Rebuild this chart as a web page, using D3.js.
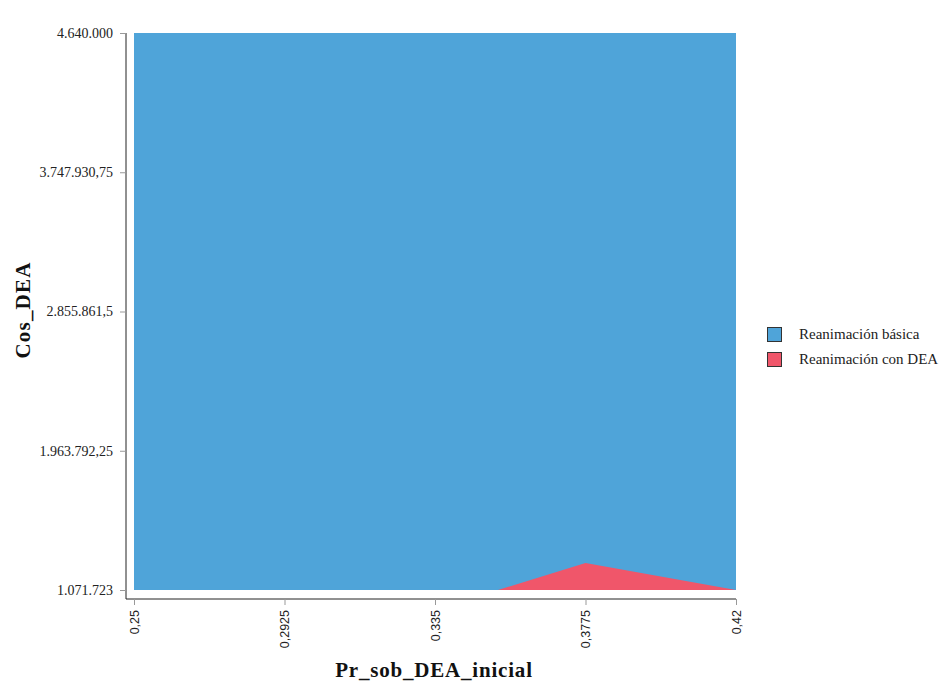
<!DOCTYPE html>
<html><head><meta charset="utf-8">
<script src="https://cdn.jsdelivr.net/npm/d3@7"></script>
<style>body{margin:0;background:#fff}</style>
</head><body>
<svg id="c" width="948" height="689"></svg>
<script>
const xDomain = [0.25, 0.42];
const yDomain = [1071723, 4640000];
const xTicks = [0.25, 0.2925, 0.335, 0.3775, 0.42];
const xTickLabels = ["0,25", "0,2925", "0,335", "0,3775", "0,42"];
const yTicks = [1071723, 1963792.25, 2855861.5, 3747930.75, 4640000];
const yTickLabels = ["1.071.723", "1.963.792,25", "2.855.861,5", "3.747.930,75", "4.640.000"];
const seriesNames = ["Reanimación básica", "Reanimación con DEA"];
const seriesColors = ["#4fa4d9", "#f0566a"];
// region where "Reanimación básica" is shown
const basicX = [0.25, 0.42];
const basicY = [4640000, 4640000];
// region where "Reanimación con DEA" is shown
const deaX = [0.3528, 0.3775, 0.42];
const deaY = [1071723, 1245000, 1071723];

const svg = d3.select("#c");
const x = d3.scaleLinear().domain(xDomain).range([134, 736]);
const y = d3.scaleLinear().domain(yDomain).range([590, 33]);

const area = d3.area().x(d => x(d[0])).y0(y(yDomain[0])).y1(d => y(d[1]));
svg.append("path").datum(basicX.map((v,i)=>[v, basicY[i]]))
  .attr("d", area).attr("fill", seriesColors[0]);
svg.append("path").datum(deaX.map((v,i)=>[v, deaY[i]]))
  .attr("d", area).attr("fill", seriesColors[1]);

// y axis
const yAxis = d3.axisLeft(y).tickValues(yTicks).tickSize(6).tickPadding(7)
  .tickFormat((d,i)=>yTickLabels[i]);
const gy = svg.append("g").attr("transform","translate(126,0)").call(yAxis);
gy.select(".domain").attr("d","M0,33V599").attr("stroke","#222");
gy.selectAll(".tick line").attr("stroke","#999");
gy.selectAll(".tick text").attr("font-family","Liberation Serif, serif").attr("font-size","14px").attr("fill","#222");

// x axis
const xAxis = d3.axisBottom(x).tickValues(xTicks).tickSize(6).tickPadding(0)
  .tickFormat((d,i)=>xTickLabels[i]);
const gx = svg.append("g").attr("transform","translate(0,599)").call(xAxis);
gx.select(".domain").attr("d","M126,0H736").attr("stroke","#222");
gx.selectAll(".tick line").attr("stroke","#999");
gx.selectAll(".tick text")
  .attr("font-family","Liberation Sans Narrow, Liberation Sans, sans-serif").attr("font-size","12.5px").attr("fill","#222")
  .attr("transform","rotate(-90)").attr("text-anchor","end").attr("x",-11).attr("y",0).attr("dy","0.35em");

// titles
svg.append("text").attr("x",434).attr("y",677).attr("text-anchor","middle")
  .attr("font-family","Liberation Serif, serif").attr("font-weight","bold").attr("font-size","21px")
  .attr("letter-spacing","0.8px").attr("fill","#111").text("Pr_sob_DEA_inicial");
svg.append("text").attr("transform","translate(30,310) rotate(-90)").attr("text-anchor","middle")
  .attr("font-family","Liberation Serif, serif").attr("font-weight","bold").attr("font-size","21px")
  .attr("letter-spacing","1.2px").attr("fill","#111").text("Cos_DEA");

// legend
const lg = svg.append("g");
seriesNames.forEach((n,i)=>{
  const yy = 327 + i*25;
  lg.append("rect").attr("x",767.5).attr("y",yy+0.5).attr("width",14).attr("height",14)
    .attr("fill",seriesColors[i]).attr("stroke","#333").attr("stroke-width",1);
  lg.append("text").attr("x",799).attr("y",yy+12).attr("font-family","Liberation Serif, serif")
    .attr("font-size","15px").attr("fill","#222").text(n);
});
</script>
</body></html>
